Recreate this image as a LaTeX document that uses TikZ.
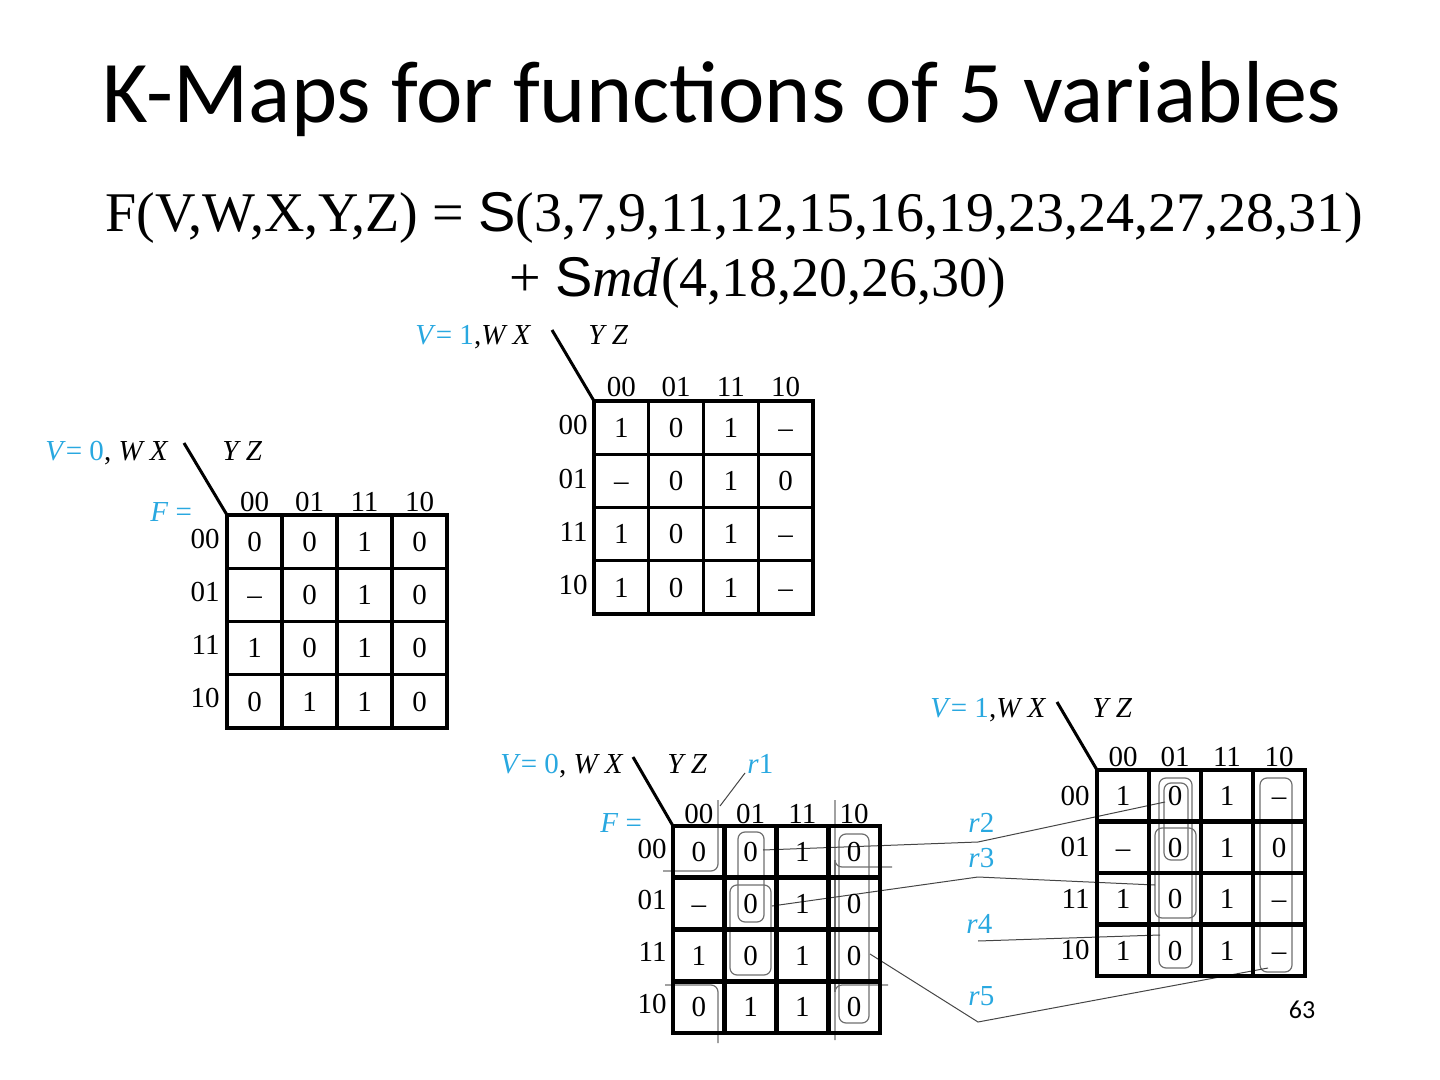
\documentclass[tikz,border=0pt]{standalone}
\usepackage{fontspec}
\setmainfont{Liberation Serif}
\newfontfamily\titlefont{Carlito}
\newfontfamily\sumfont{Liberation Sans}
\usetikzlibrary{positioning,calc}
\definecolor{kblue}{HTML}{29A8E0}
\definecolor{loopgray}{HTML}{6E6E6E}
\definecolor{leadgray}{HTML}{454545}

\begin{document}
\begin{tikzpicture}[x=0.5pt,y=-0.5pt,
    cell/.style={font=\fontsize{14.5}{16}\selectfont,inner sep=0pt,anchor=base},
    lbl/.style={font=\fontsize{14.5}{16}\selectfont,inner sep=0pt},
    gridthin/.style={line width=1.6pt,line cap=rect},
    gridthick/.style={line width=2.3pt,line cap=rect},
    diag/.style={line width=1.5pt},
    kloop/.style={loopgray,line width=0.6pt,rounded corners=3.5pt},
    lead/.style={leadgray,line width=0.5pt}]
  \useasboundingbox (0,0) rectangle (1440,1080);
  % Titulo y funcion
  \node[font=\titlefont\fontsize{44}{50}\selectfont,anchor=base] (title) at (722,123) {K-Maps for functions of 5 variables};
  \node[font=\fontsize{28}{32}\selectfont,anchor=base] (sum1) at (734,232)
    {F(V,W,X,Y,Z) = {\sumfont S}(3,7,9,11,12,15,16,19,23,24,27,28,31)};
  \node[font=\fontsize{28}{32}\selectfont,anchor=base] (sum2) at (758,297)
    {+ {\sumfont S}\textit{md}(4,18,20,26,30)};
  % Mapa V=1 (arriba)
  \foreach \i in {0,...,4}{
    \draw[gridthin](594+54.75*\i,401)--(594+54.75*\i,614);
    \draw[gridthin](594,401+53.25*\i)--(813,401+53.25*\i);}
  \foreach \t [count=\i from 0] in {00,01,11,10}{
    \node[lbl,anchor=base](ah\i) at (594+54.75*\i+27.4,397){\t};
    \node[lbl,anchor=base east](ar\i) at (588,401+53.25*\i+34){\t};}
  \foreach \v [count=\k from 0] in {1,0,1,\textendash,\textendash,0,1,0,1,0,1,\textendash,1,0,1,\textendash}{
    \pgfmathtruncatemacro\rw{\k/4}\pgfmathtruncatemacro\cl{mod(\k,4)}
    \node[cell](a\k) at (594+54.75*\cl+27.4,401+53.25*\rw+26.6+9.8){\v};}
  \draw[diag](594,401)--(552,330);
  \node[lbl,anchor=base west](aV) at (415,345){{\color{kblue}\textit{V}= 1},\textit{W X}};
  \node[lbl,anchor=base west](aYZ) at (588,345){\textit{Y Z}};
  % Mapa V=0 (izquierda)
  \foreach \i in {0,...,4}{
    \draw[gridthin](227+55*\i,515)--(227+55*\i,728);
    \draw[gridthin](227,515+53.25*\i)--(447,515+53.25*\i);}
  \foreach \t [count=\i from 0] in {00,01,11,10}{
    \node[lbl,anchor=base](bh\i) at (227+55*\i+27.5,511){\t};
    \node[lbl,anchor=base east](br\i) at (220,515+53.25*\i+33){\t};}
  \foreach \v [count=\k from 0] in {0,0,1,0,\textendash,0,1,0,1,0,1,0,0,1,1,0}{
    \pgfmathtruncatemacro\rw{\k/4}\pgfmathtruncatemacro\cl{mod(\k,4)}
    \node[cell](b\k) at (227+55*\cl+27.5,515+53.25*\rw+26.6+9.8){\v};}
  \draw[diag](227,515)--(184,443);
  \node[lbl,anchor=base west](bV) at (45,460){{\color{kblue}\textit{V}= 0}, \textit{W X}};
  \node[lbl,anchor=base west](bYZ) at (222,460){\textit{Y Z}};
  \node[lbl,anchor=base west,kblue](bF) at (150,521){\textit{F} =};
  % Lazos y lineas guia
  \draw[kloop](738,832) rectangle (764,922);
  \draw[kloop](730,885) rectangle (771,975);
  \draw[kloop](839,834) rectangle (869,1023);
  \draw[kloop](718,800)--(718,871)--(663,871);
  \draw[kloop](665,985)--(718,985)--(718,1043);
  \draw[kloop](835,800)--(835,867)--(892,867);
  \draw[kloop](888,985)--(835,985)--(835,1040);
  \draw[kloop](835,860)--(835,992);
  \draw[kloop](1159,778) rectangle (1192,968);
  \draw[kloop](1164,783) rectangle (1188,860);
  \draw[kloop](1155,828) rectangle (1196,918);
  \draw[kloop](1260,778) rectangle (1292,972);
  \coordinate(r1a) at (745,773); \coordinate(r1b) at (720,806);
  \coordinate(r2a) at (763,850); \coordinate(r2b) at (978,842); \coordinate(r2c) at (1165,802);
  \coordinate(r3a) at (772,906); \coordinate(r3b) at (978,877); \coordinate(r3c) at (1155,885);
  \coordinate(r4a) at (978,941); \coordinate(r4b) at (1160,935);
  \coordinate(r5a) at (870,954); \coordinate(r5b) at (978,1022); \coordinate(r5c) at (1268,968);
  \draw[lead](r1a)--(r1b);
  \draw[lead](r2a)--(r2b)--(r2c);
  \draw[lead](r3a)--(r3b)--(r3c);
  \draw[lead](r4a)--(r4b);
  \draw[lead](r5a)--(r5b)--(r5c);
  \node[lbl,anchor=base west,kblue](r1) at (747,773){\textit{r}1};
  \node[lbl,anchor=base west,kblue](r2) at (968,832){\textit{r}2};
  \node[lbl,anchor=base west,kblue](r3) at (968,867){\textit{r}3};
  \node[lbl,anchor=base west,kblue](r4) at (966,933){\textit{r}4};
  \node[lbl,anchor=base west,kblue](r5) at (968,1005){\textit{r}5};
  % Mapa V=0 (abajo)
  \foreach \i in {0,...,4}{
    \draw[gridthick](673+51.75*\i,826)--(673+51.75*\i,1033);
    \draw[gridthick](673,826+51.75*\i)--(880,826+51.75*\i);}
  \foreach \t [count=\i from 0] in {00,01,11,10}{
    \node[lbl,anchor=base](ch\i) at (673+51.75*\i+25.9,823){\t};
    \node[lbl,anchor=base east](cr\i) at (667,826+51.75*\i+32){\t};}
  \foreach \v [count=\k from 0] in {0,0,1,0,\textendash,0,1,0,1,0,1,0,0,1,1,0}{
    \pgfmathtruncatemacro\rw{\k/4}\pgfmathtruncatemacro\cl{mod(\k,4)}
    \node[cell](c\k) at (673+51.75*\cl+25.9,826+51.75*\rw+25.9+9.8){\v};}
  \draw[diag](673,826)--(633,757);
  \node[lbl,anchor=base west](cV) at (500,773){{\color{kblue}\textit{V}= 0}, \textit{W X}};
  \node[lbl,anchor=base west](cYZ) at (667,773){\textit{Y Z}};
  \node[lbl,anchor=base west,kblue](cF) at (600,832){\textit{F} =};
  % Mapa V=1 (abajo)
  \foreach \i in {0,...,4}{
    \draw[gridthick](1097+52*\i,770)--(1097+52*\i,976);
    \draw[gridthick](1097,770+51.5*\i)--(1305,770+51.5*\i);}
  \foreach \t [count=\i from 0] in {00,01,11,10}{
    \node[lbl,anchor=base](dh\i) at (1097+52*\i+26,766){\t};
    \node[lbl,anchor=base east](dr\i) at (1090,770+51.5*\i+35){\t};}
  \foreach \v [count=\k from 0] in {1,0,1,\textendash,\textendash,0,1,0,1,0,1,\textendash,1,0,1,\textendash}{
    \pgfmathtruncatemacro\rw{\k/4}\pgfmathtruncatemacro\cl{mod(\k,4)}
    \node[cell](d\k) at (1097+52*\cl+26,770+51.5*\rw+25.8+9.8){\v};}
  \draw[diag](1097,770)--(1057,702);
  \node[lbl,anchor=base west](dV) at (930,717){{\color{kblue}\textit{V}= 1},\textit{W X}};
  \node[lbl,anchor=base west](dYZ) at (1092,717){\textit{Y Z}};
  % Numero de pagina
  \node[font=\titlefont\fontsize{13}{15}\selectfont](pnum) at (1302,1010){63};
\end{tikzpicture}
\end{document}
